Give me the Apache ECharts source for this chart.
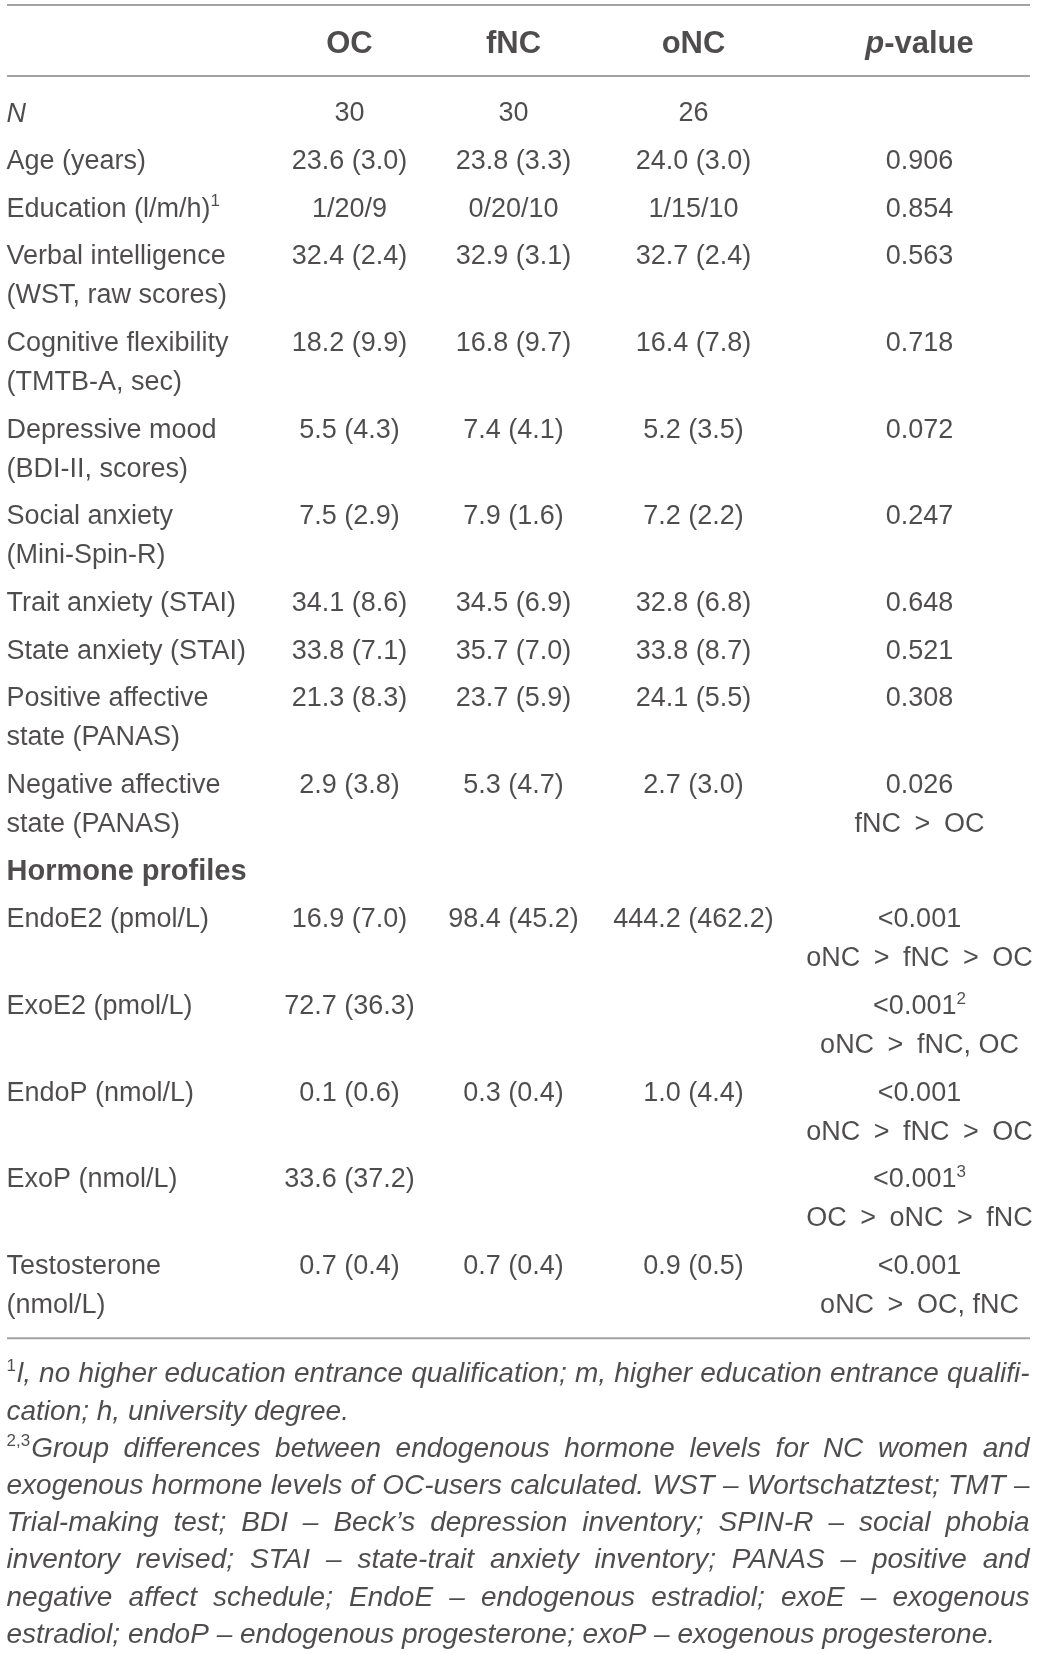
<!DOCTYPE html>
<html>
<head>
<meta charset="utf-8">
<script src="https://cdn.jsdelivr.net/npm/echarts@6/dist/echarts.min.js"></script>
<style>
html, body { margin: 0; padding: 0; background: #fff; }
#main { width: 1041px; height: 1655px; }
</style>
</head>
<body>
<div id="main"></div>
<script>
// table heads
var groups = ['OC', 'fNC', 'oNC'];
var pHead = '{pi|p}-value';

// first column, '\n' splits a cell in lines
var rowLabels = [
    '{i|N}',
    'Age (years)',
    'Education (l/m/h){sup|1}',
    'Verbal intelligence\n(WST, raw scores)',
    'Cognitive flexibility\n(TMTB-A, sec)',
    'Depressive mood\n(BDI-II, scores)',
    'Social anxiety\n(Mini-Spin-R)',
    'Trait anxiety (STAI)',
    'State anxiety (STAI)',
    'Positive affective\nstate (PANAS)',
    'Negative affective\nstate (PANAS)',
    '{b|Hormone profiles}',
    'EndoE2 (pmol/L)',
    'ExoE2 (pmol/L)',
    'EndoP (nmol/L)',
    'ExoP (nmol/L)',
    'Testosterone\n(nmol/L)'
];

var ocValues = ['30', '23.6 (3.0)', '1/20/9', '32.4 (2.4)', '18.2 (9.9)', '5.5 (4.3)', '7.5 (2.9)',
    '34.1 (8.6)', '33.8 (7.1)', '21.3 (8.3)', '2.9 (3.8)', '', '16.9 (7.0)', '72.7 (36.3)',
    '0.1 (0.6)', '33.6 (37.2)', '0.7 (0.4)'];
var fncValues = ['30', '23.8 (3.3)', '0/20/10', '32.9 (3.1)', '16.8 (9.7)', '7.4 (4.1)', '7.9 (1.6)',
    '34.5 (6.9)', '35.7 (7.0)', '23.7 (5.9)', '5.3 (4.7)', '', '98.4 (45.2)', '',
    '0.3 (0.4)', '', '0.7 (0.4)'];
var oncValues = ['26', '24.0 (3.0)', '1/15/10', '32.7 (2.4)', '16.4 (7.8)', '5.2 (3.5)', '7.2 (2.2)',
    '32.8 (6.8)', '33.8 (8.7)', '24.1 (5.5)', '2.7 (3.0)', '', '444.2 (462.2)', '',
    '1.0 (4.4)', '', '0.9 (0.5)'];
var pValues = ['', '0.906', '0.854', '0.563', '0.718', '0.072', '0.247', '0.648', '0.521', '0.308',
    '0.026\nfNC > OC', '',
    '<0.001\noNC > fNC > OC',
    '<0.001{sup|2}\noNC > fNC, OC',
    '<0.001\noNC > fNC > OC',
    '<0.001{sup|3}\nOC > oNC > fNC',
    '<0.001\noNC > OC, fNC'];

// notes under the table
var footSups = ['1', '', '2,3', '', '', '', '', ''];
var footLines = [
    'l, no higher education entrance qualification; m, higher education entrance qualifi-',
    'cation; h, university degree.',
    'Group differences between endogenous hormone levels for NC women and',
    'exogenous hormone levels of OC-users calculated. WST \u2013 Wortschatztest; TMT \u2013',
    'Trial-making test; BDI \u2013 Beck\u2019s depression inventory; SPIN-R \u2013 social phobia',
    'inventory revised; STAI \u2013 state-trait anxiety inventory; PANAS \u2013 positive and',
    'negative affect schedule; EndoE \u2013 endogenous estradiol; exoE \u2013 exogenous',
    'estradiol; endoP \u2013 endogenous progesterone; exoP \u2013 exogenous progesterone.'
];
var footParagraphEnds = [1, 7];


var W = 1041, H = 1655;
var LEFT = 7, RIGHT = 1030;
var colX = [350, 514, 694, 920];
var FONT = '"Liberation Sans", Arial, sans-serif';
var TEXT = '#231f20';
var RULE = '#a3a3a3';
var fontSize = 27, headSize = 31, sectionSize = 29, footSize = 28, supSize = 17;

var topRuleY = 5, headY = 45, headRuleY = 76;
var firstRowY = 114.5, lineStep = 39.1, rowStep = 47.6;
var footStep = 37.2, bottomPad = 32, footOffset = 37;

var rich = {
    sup: { fontSize: supSize, fontFamily: FONT, color: TEXT, verticalAlign: 'top', lineHeight: 17 },
    i: { fontSize: fontSize, fontFamily: FONT, color: TEXT, fontStyle: 'italic' },
    b: { fontSize: sectionSize, fontFamily: FONT, color: TEXT, fontWeight: 'bold' },
    pi: { fontSize: headSize, fontFamily: FONT, color: TEXT, fontWeight: 'bold', fontStyle: 'italic' }
};

// wider gap round the ">" signs, as in the print
function spaced(str) {
    return str.replace(/ > /g, '\u2002>\u2002');
}

var items = [];

function addText(x, y, text, align, extra) {
    var label = {
        show: true,
        position: [0, 0],
        align: align,
        verticalAlign: 'middle',
        formatter: text,
        fontFamily: FONT,
        fontSize: fontSize,
        lineHeight: 32,
        color: TEXT,
        rich: rich
    };
    if (extra) {
        for (var k in extra) label[k] = extra[k];
    }
    items.push({ value: [x, y], label: label });
}

// header
for (var g = 0; g < groups.length; g++) {
    addText(colX[g], headY, groups[g], 'center', { fontWeight: 'bold', fontSize: headSize });
}
addText(colX[3], headY, pHead, 'center', { fontWeight: 'bold', fontSize: headSize });

// body rows
var y = firstRowY;
for (var r = 0; r < rowLabels.length; r++) {
    var cells = [rowLabels[r], ocValues[r], fncValues[r], oncValues[r], pValues[r]];
    var nLines = 1;
    for (var c = 0; c < cells.length; c++) {
        var parts = cells[c].split('\n');
        nLines = Math.max(nLines, parts.length);
        for (var l = 0; l < parts.length; l++) {
            if (!parts[l]) continue;
            if (c === 0) {
                addText(LEFT, y + l * lineStep, parts[l], 'left');
            } else {
                addText(colX[c - 1], y + l * lineStep, spaced(parts[l]), 'center');
            }
        }
    }
    y += (nLines - 1) * lineStep + rowStep;
}
var bottomRuleY = y - rowStep + bottomPad;

// footnotes, justified by hand
var measure = document.createElement('canvas').getContext('2d');
function textWidth(str, size, italic) {
    measure.font = (italic ? 'italic ' : '') + size + 'px ' + FONT;
    return measure.measureText(str).width;
}

var fy = bottomRuleY + footOffset;
for (var f = 0; f < footLines.length; f++) {
    var x0 = LEFT;
    if (footSups[f]) {
        addText(x0, fy - 8, footSups[f], 'left', { fontSize: supSize, lineHeight: 20 });
        x0 += textWidth(footSups[f], supSize, false) + 1;
    }
    var words = footLines[f].split(' ');
    var size = footSize;
    var minGap = size * 0.16;
    var widths = words.map(function (w) { return textWidth(w, size, true); });
    var total = widths.reduce(function (a, b) { return a + b; }, 0);
    // shrink the line a bit if it does not fit even with tight gaps
    while (total + minGap * (words.length - 1) > RIGHT - x0 && size > 20) {
        size -= 0.25;
        minGap = size * 0.16;
        widths = words.map(function (w) { return textWidth(w, size, true); });
        total = widths.reduce(function (a, b) { return a + b; }, 0);
    }
    var gap = textWidth(' ', size, true);
    if (footParagraphEnds.indexOf(f) < 0 && words.length > 1) {
        gap = (RIGHT - x0 - total) / (words.length - 1);
    }
    var wx = x0;
    for (var w = 0; w < words.length; w++) {
        addText(wx, fy, words[w], 'left', { fontSize: size, fontStyle: 'italic' });
        wx += widths[w] + gap;
    }
    fy += footStep;
}

var ruleYs = [topRuleY, headRuleY, bottomRuleY];
var ruleSeries = ruleYs.map(function (ry) {
    return {
        type: 'line',
        data: [[LEFT, ry], [RIGHT, ry]],
        symbol: 'none',
        silent: true,
        lineStyle: { color: RULE, width: 2 }
    };
});

var chart = echarts.init(document.getElementById('main'), null, { renderer: 'canvas' });
chart.setOption({
    animation: false,
    backgroundColor: '#fff',
    grid: { left: 0, right: 0, top: 0, bottom: 0 },
    xAxis: { type: 'value', min: 0, max: W, show: false },
    yAxis: { type: 'value', min: 0, max: H, inverse: true, show: false },
    series: ruleSeries.concat([{
        type: 'scatter',
        symbolSize: 1,
        silent: true,
        itemStyle: { color: 'rgba(0,0,0,0)' },
        data: items
    }])
});
</script>
</body>
</html>
